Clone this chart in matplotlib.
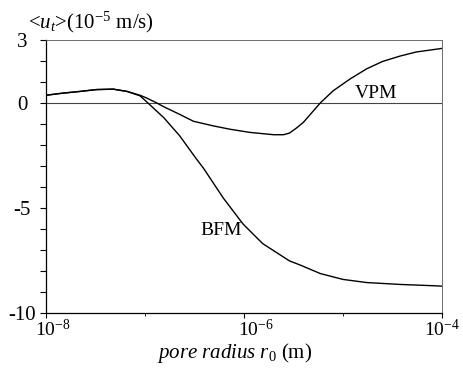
import numpy as np
import matplotlib
matplotlib.use("Agg")
import matplotlib.pyplot as plt
from matplotlib.ticker import FixedLocator, FixedFormatter, NullFormatter
from matplotlib.transforms import ScaledTranslation

plt.rcParams['font.family'] = ['Liberation Serif', 'DejaVu Serif']
plt.rcParams['mathtext.fontset'] = 'custom'
plt.rcParams['mathtext.rm'] = 'Liberation Serif'
plt.rcParams['mathtext.it'] = 'Liberation Serif:italic'

# log10 of pore radius (m) and mean velocity <u_t> (1e-5 m/s)
bfm_logr = [-8.0, -7.83, -7.66, -7.49, -7.32, -7.18, -7.05, -6.97, -6.81, -6.65, -6.48,
            -6.41, -6.21, -6.01, -5.81, -5.54, -5.43, -5.23, -5.0, -4.76, -4.42, -4.09, -4.0]
bfm_vals = [0.37, 0.47, 0.55, 0.64, 0.66, 0.55, 0.34, 0.0, -0.7, -1.56, -2.67,
            -3.1, -4.52, -5.76, -6.7, -7.52, -7.72, -8.12, -8.4, -8.55, -8.64, -8.7, -8.72]

vpm_logr = [-8.0, -7.83, -7.66, -7.49, -7.32, -7.18, -7.05, -6.98, -6.88, -6.81, -6.65,
            -6.51, -6.31, -6.14, -5.94, -5.7, -5.6, -5.54, -5.47, -5.4, -5.23, -5.1,
            -4.93, -4.76, -4.6, -4.42, -4.26, -4.0]
vpm_vals = [0.37, 0.47, 0.55, 0.64, 0.66, 0.55, 0.37, 0.23, 0.0, -0.18, -0.54,
            -0.87, -1.09, -1.25, -1.4, -1.51, -1.51, -1.43, -1.19, -0.92, 0.0, 0.58,
            1.14, 1.63, 1.98, 2.24, 2.43, 2.6]

x_major = [1e-8, 1e-6, 1e-4]
x_major_labels = ['$10^{-8}$', '$10^{-6}$', '$10^{-4}$']
x_minor = [1e-7, 1e-5]
y_major = [3, 0, -5, -10]
y_major_labels = ['3', '0', '-5', '-10']
y_minor = list(range(-10, 4))

fig = plt.figure(figsize=(4.63, 3.75), dpi=100)
ax = fig.add_axes([0.0994, 0.1653, 0.8552, 0.728])

ax.axhline(0, color='#444444', lw=0.8)
ax.plot(10 ** np.array(bfm_logr), bfm_vals, color='black', lw=1.0)
ax.plot(10 ** np.array(vpm_logr), vpm_vals, color='black', lw=1.0)

ax.set_xscale('log')
ax.set_xlim(1e-8, 1e-4)
ax.set_ylim(-10, 3)

ax.xaxis.set_major_locator(FixedLocator(x_major))
ax.xaxis.set_major_formatter(FixedFormatter(x_major_labels))
ax.xaxis.set_minor_locator(FixedLocator(x_minor))
ax.xaxis.set_minor_formatter(NullFormatter())
ax.yaxis.set_major_locator(FixedLocator(y_major))
ax.yaxis.set_major_formatter(FixedFormatter(y_major_labels))
ax.yaxis.set_minor_locator(FixedLocator(y_minor))

ax.tick_params(axis='x', which='major', direction='out', length=3.5, width=0.8, labelsize=14, pad=1)
ax.tick_params(axis='x', which='minor', direction='out', length=2.5, width=0.6)
ax.tick_params(axis='y', which='both', direction='out', length=4, width=0.8, labelsize=15, pad=13)

for lab in ax.get_yticklabels():
    lab.set_horizontalalignment('center')

# the printed x labels sit a little right of their ticks
x_shift = [7, 12, 0]
for lab, dx in zip(ax.get_xticklabels(), x_shift):
    lab.set_transform(lab.get_transform() + ScaledTranslation(dx / 100, 0, fig.dpi_scale_trans))

for side in ['left', 'bottom']:
    ax.spines[side].set_linewidth(0.9)
for side in ['top', 'right']:
    ax.spines[side].set_linewidth(0.6)
    ax.spines[side].set_color('#555555')

ax.text(10 ** -4.88, 0.24, 'VPM', fontsize=14, va='baseline')
ax.text(10 ** -6.44, -6.27, 'BFM', fontsize=14, va='baseline')

fig.text(0.06, 0.925, r'<$u_t$>(10$^{-5}$ m/s)', fontsize=15, va='baseline')
fig.text(0.507, 0.045, r'$pore\ radius\ r_0$ (m)', fontsize=15, ha='center', va='baseline')

fig.savefig('out.png', dpi=100)
